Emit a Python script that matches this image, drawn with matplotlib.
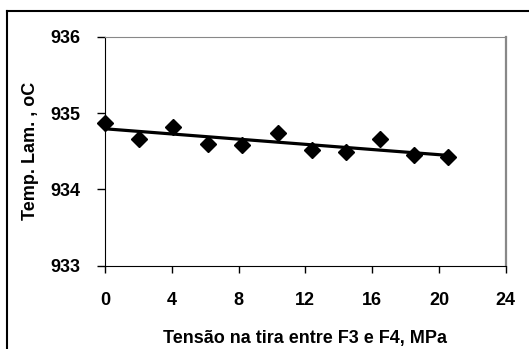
import numpy as np
import matplotlib
matplotlib.use('Agg')
import matplotlib.pyplot as plt
from matplotlib.lines import Line2D

plt.rcParams['font.family'] = ['Liberation Sans', 'DejaVu Sans']
plt.rcParams['font.weight'] = 'bold'

# tensao (MPa) e temperatura de laminacao (oC)
tensao = [0.0, 2.05, 4.1, 6.15, 8.2, 10.35, 12.4, 14.45, 16.5, 18.5, 20.55]
temp = [934.87, 934.66, 934.82, 934.60, 934.58, 934.74, 934.52, 934.49, 934.66, 934.45, 934.42]

xticks = [0, 4, 8, 12, 16, 20, 24]
yticks = [933, 934, 935, 936]

fig = plt.figure(figsize=(5.29, 3.49), dpi=100)
ax = fig.add_axes([0.1985, 0.2387, 0.7575, 0.6561])

ax.plot(tensao, temp, 'kD', ms=8, clip_on=False, zorder=3)

# linha de tendencia (ajuste linear)
coef = np.polyfit(tensao, temp, 1)
xt = np.array([tensao[0], tensao[-1]])
ax.plot(xt, np.polyval(coef, xt), color='k', lw=2.3, zorder=2)

ax.set_xlim(0, 24)
ax.set_ylim(933, 936)
ax.set_xticks(xticks)
ax.set_yticks(yticks)
ax.tick_params(axis='x', direction='out', length=5, width=1, pad=14, labelsize=13)
ax.tick_params(axis='y', direction='out', length=6, width=1, pad=12, labelsize=13)
for lab in ax.get_xticklabels() + ax.get_yticklabels():
    lab.set_fontweight('bold')

ax.spines['left'].set_color('black')
ax.spines['bottom'].set_color('black')
ax.spines['top'].set_color('#888888')
ax.spines['right'].set_color('#888888')
ax.spines['right'].set_linewidth(1.6)

ax.set_xlabel('Tensão na tira entre F3 e F4, MPa', fontsize=13, fontweight='bold', labelpad=15)
ax.set_ylabel('Temp. Lam. , oC', fontsize=13, fontweight='bold', labelpad=8)

# moldura externa (so topo e esquerda visiveis)
fig.add_artist(Line2D([7/529, 1.0], [1 - 11/349, 1 - 11/349], color='k', lw=1.5, transform=fig.transFigure))
fig.add_artist(Line2D([7/529, 7/529], [0.0, 1 - 11/349], color='k', lw=1.5, transform=fig.transFigure))

fig.savefig('out.png', dpi=100)
